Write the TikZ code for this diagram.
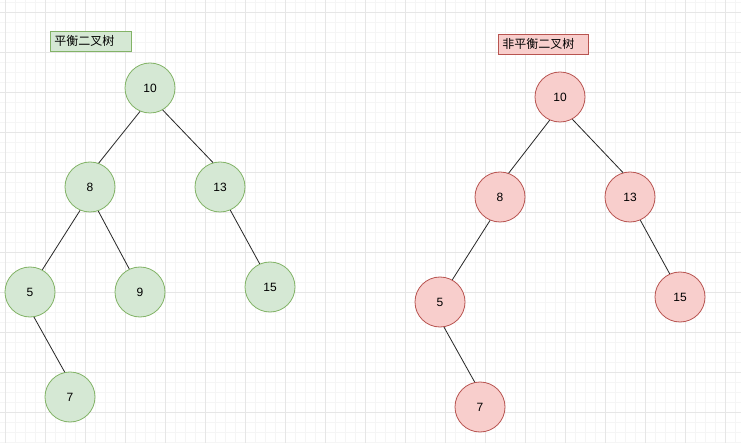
\documentclass[tikz,border=0pt]{standalone}
\usepackage{fontspec}
\setmainfont{Liberation Sans}
\newfontfamily\cjk{Noto Sans CJK SC}
\usepackage{tikz}
\definecolor{okfill}{HTML}{D5E8D4}
\definecolor{okline}{HTML}{82B366}
\definecolor{badfill}{HTML}{F8CECC}
\definecolor{badline}{HTML}{B85450}
\definecolor{gridminor}{HTML}{F5F5F5}
\definecolor{gridmajor}{HTML}{E6E6E6}
\tikzset{
  treenode/.style={circle,minimum size=50pt,inner sep=0pt,line width=0.8pt,
    font=\fontsize{12}{14}\selectfont},
  oknode/.style={treenode,draw=okline,fill=okfill},
  badnode/.style={treenode,draw=badline,fill=badfill},
  tedge/.style={line width=0.8pt,black!85},
  titlebox/.style={draw,line width=0.8pt,minimum height=20pt,inner xsep=4pt,
    inner ysep=0pt,align=left,anchor=north west,font=\cjk\fontsize{12}{14}\selectfont},
}
\begin{document}
\begin{tikzpicture}[x=1pt,y=-1pt]
  \useasboundingbox (0,0) rectangle (741,443);
  \fill[white] (0,0) rectangle (741,443);
  % background grid
  \foreach \gx in {5,15,...,735} \draw[gridminor,line width=0.6pt] (\gx,0) -- (\gx,443);
  \foreach \gy in {2,12,...,442} \draw[gridminor,line width=0.6pt] (0,\gy) -- (741,\gy);
  \foreach \gx in {5,45,...,725} \draw[gridmajor,line width=0.6pt] (\gx,0) -- (\gx,443);
  \foreach \gy in {12,52,...,412} \draw[gridmajor,line width=0.6pt] (0,\gy) -- (741,\gy);

  % balanced tree
  \node[titlebox,draw=okline,fill=okfill,text width=73pt] (lbal) at (50,31) {平衡二叉树};
  \node[oknode] (a10) at (150,88) {10};
  \node[oknode] (a8) at (90,187) {8};
  \node[oknode] (a13) at (220,187) {13};
  \node[oknode] (a5) at (30,292) {5};
  \node[oknode] (a9) at (140,292) {9};
  \node[oknode] (a15) at (270,287) {15};
  \node[oknode] (a7) at (70,397) {7};
  \draw[tedge] (a10.247) -- (a8.70);
  \draw[tedge] (a10.300) -- (a13.106);
  \draw[tedge] (a8.247) -- (a5.61);
  \draw[tedge] (a8.289) -- (a9.115);
  \draw[tedge] (a13.294) -- (a15.114);
  \draw[tedge] (a5.279) -- (a7.102);

  % unbalanced tree
  \node[titlebox,draw=badline,fill=badfill,text width=82pt] (lunbal) at (498,34) {非平衡二叉树};
  \node[badnode] (b10) at (560,97) {10};
  \node[badnode] (b8) at (500,197) {8};
  \node[badnode] (b13) at (630,197) {13};
  \node[badnode] (b5) at (440,302) {5};
  \node[badnode] (b15) at (680,297) {15};
  \node[badnode] (b7) at (480,407) {7};
  \draw[tedge] (b10.246) -- (b8.70);
  \draw[tedge] (b10.299) -- (b13.106);
  \draw[tedge] (b8.247) -- (b5.61);
  \draw[tedge] (b13.294) -- (b15.114);
  \draw[tedge] (b5.279) -- (b7.102);
\end{tikzpicture}
\end{document}
